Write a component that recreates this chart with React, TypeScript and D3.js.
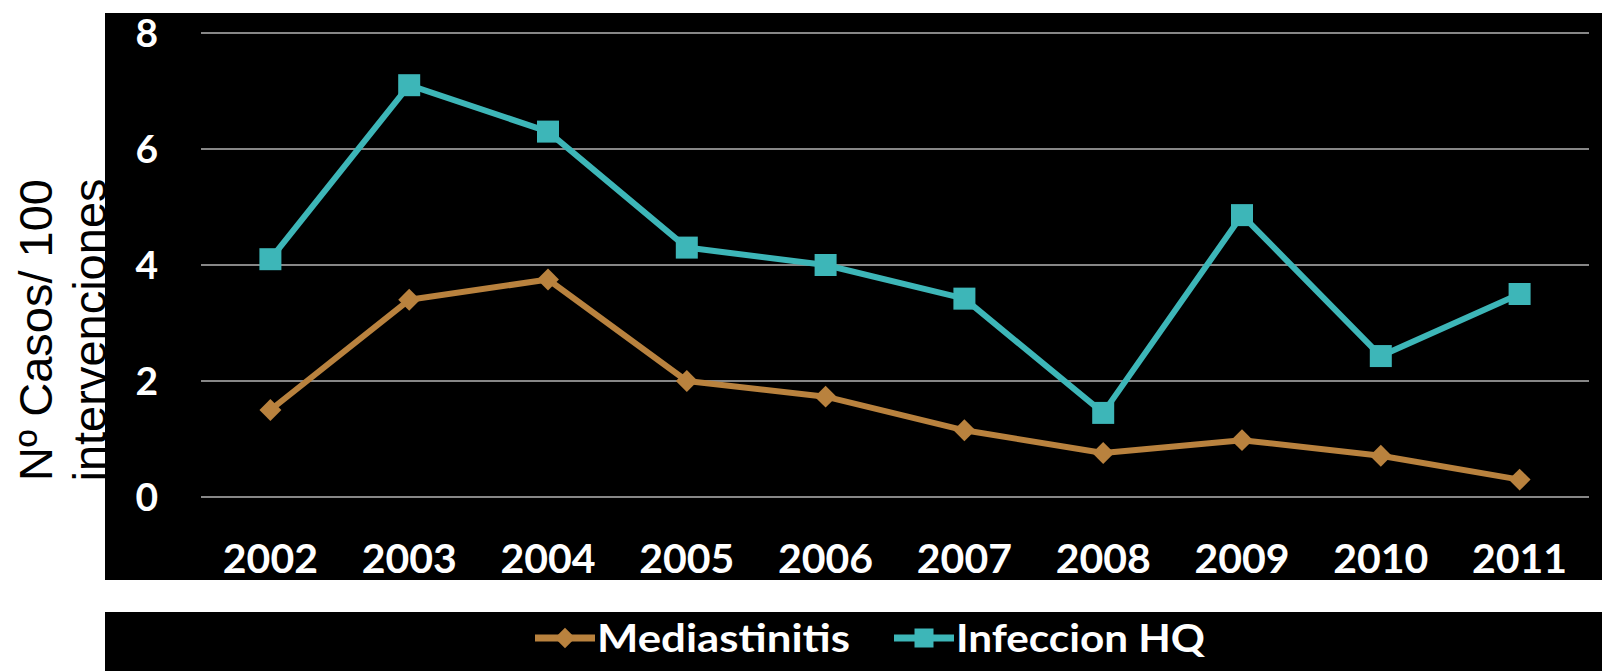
import React from "react";
import * as d3 from "d3";

// Chart data
const years = ["2002", "2003", "2004", "2005", "2006", "2007", "2008", "2009", "2010", "2011"];
const mediastinitis = [1.5, 3.4, 3.75, 2.0, 1.73, 1.15, 0.76, 0.98, 0.71, 0.3];
const infeccionHQ = [4.1, 7.1, 6.3, 4.3, 4.0, 3.42, 1.45, 4.86, 2.43, 3.5];
const yTicks = [0, 2, 4, 6, 8];
const seriesNames = ["Mediastinitis", "Infeccion HQ"];
const titleLines = ["Nº Casos/ 100", "intervenciones"];

const W = 1602;
const H = 671;
const ORANGE = "#B9823E";
const TEAL = "#3DB6B8";
const GRID = "#878787";
const LABEL_FONT = "Lato, 'Open Sans', sans-serif";

export default function App() {
  const x = d3.scalePoint<string>().domain(years).range([201, 1589]).padding(0.5);
  const y = d3.scaleLinear().domain([0, 8]).range([497, 33]);

  const line = d3
    .line<number>()
    .x((_, i) => x(years[i]) as number)
    .y((d) => y(d));

  const square = d3.symbol().type(d3.symbolSquare).size(22 * 22)();
  const diamond = d3.symbol().type(d3.symbolSquare).size(15.5 * 15.5)();
  const legendSquare = d3.symbol().type(d3.symbolSquare).size(19 * 19)();
  const legendDiamond = d3.symbol().type(d3.symbolSquare).size(14.5 * 14.5)();

  const legendItems = [
    { name: seriesNames[0], color: ORANGE, marker: legendDiamond, rot: 45, lx: 565, tx: 597, len: 253 },
    { name: seriesNames[1], color: TEAL, marker: legendSquare, rot: 0, lx: 924, tx: 956, len: 249 },
  ];

  return (
    <svg
      width={W}
      height={H}
      style={{ position: "absolute", left: 0, top: 0, background: "#fff" }}
    >
      {/* axis title, partly covered by the plot panel */}
      {titleLines.map((t, i) => (
        <text
          key={t}
          transform={`translate(${i === 0 ? 52 : 106},330) rotate(-90)`}
          textAnchor="middle"
          fontFamily="'Liberation Sans', Arial, sans-serif"
          fontSize={47}
          fill="#000"
        >
          {t}
        </text>
      ))}

      {/* plot panel */}
      <rect x={105} y={13} width={W - 105} height={567} fill="#000" />

      {/* gridlines */}
      {yTicks.map((t) => (
        <line key={t} x1={201} x2={1589} y1={y(t)} y2={y(t)} stroke={GRID} strokeWidth={2} />
      ))}

      {/* y tick labels */}
      {yTicks.map((t) => (
        <text
          key={t}
          x={158}
          y={y(t)}
          dy="0.36em"
          textAnchor="end"
          fontFamily={LABEL_FONT}
          fontWeight={700}
          fontSize={39}
          fill="#fff"
        >
          {t}
        </text>
      ))}

      {/* x tick labels */}
      {years.map((yr) => (
        <text
          key={yr}
          x={x(yr)}
          y={573}
          textAnchor="middle"
          fontFamily={LABEL_FONT}
          fontWeight={700}
          fontSize={41}
          fill="#fff"
        >
          {yr}
        </text>
      ))}

      {/* series lines */}
      <path d={line(mediastinitis) ?? ""} fill="none" stroke={ORANGE} strokeWidth={6} strokeLinejoin="round" />
      <path d={line(infeccionHQ) ?? ""} fill="none" stroke={TEAL} strokeWidth={6} strokeLinejoin="round" />

      {/* markers */}
      {mediastinitis.map((v, i) => (
        <path
          key={"m" + i}
          d={diamond ?? ""}
          transform={`translate(${x(years[i])},${y(v)}) rotate(45)`}
          fill={ORANGE}
        />
      ))}
      {infeccionHQ.map((v, i) => (
        <path
          key={"h" + i}
          d={square ?? ""}
          transform={`translate(${x(years[i])},${y(v)})`}
          fill={TEAL}
        />
      ))}

      {/* legend panel */}
      <rect x={105} y={612} width={W - 105} height={H - 612} fill="#000" />
      {legendItems.map((it) => (
        <g key={it.name}>
          <line x1={it.lx - 30} x2={it.lx + 30} y1={638} y2={638} stroke={it.color} strokeWidth={7} />
          <path d={it.marker ?? ""} transform={`translate(${it.lx},638) rotate(${it.rot})`} fill={it.color} />
          <text
            x={it.tx}
            y={652}
            fontFamily={LABEL_FONT}
            fontWeight={700}
            fontSize={39}
            fill="#fff"
            textLength={it.len}
            lengthAdjust="spacingAndGlyphs"
          >
            {it.name}
          </text>
        </g>
      ))}
    </svg>
  );
}
